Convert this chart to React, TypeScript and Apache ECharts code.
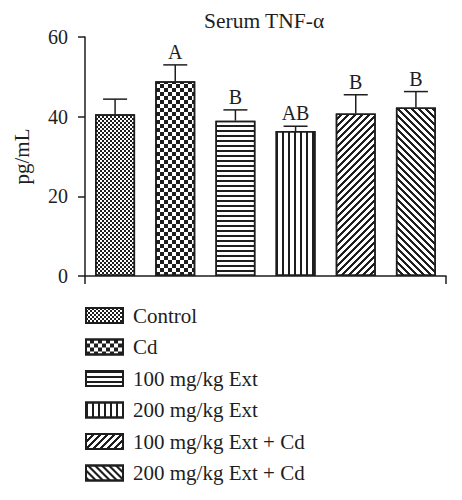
import { useEffect, useRef } from "react";
import * as echarts from "echarts";

const groups = [
  "Control",
  "Cd",
  "100 mg/kg Ext",
  "200 mg/kg Ext",
  "100 mg/kg Ext + Cd",
  "200 mg/kg Ext + Cd",
];
const means = [40.6, 48.9, 39.0, 36.4, 40.8, 42.3];
const upper = [44.4, 53.0, 41.7, 37.6, 45.5, 46.3];
const letters = ["", "A", "B", "AB", "B", "B"];
const yTicks = { min: 0, max: 60, interval: 20 };

const FONT = "'Liberation Serif', 'DejaVu Serif', serif";
const INK = "#1e1e1e";

// staircase rows for a diagonal hatch, no rotation needed
function diagRows(p: number, w: number, dir: number): number[][] {
  const rows: number[][] = [];
  for (let k = 0; k < p; k++) {
    const o = dir > 0 ? k : (p - k) % p;
    if (o + w <= p) rows.push([0, o, w, p - o - w]);
    else rows.push([o + w - p, p - w, p - o, 0]);
  }
  return rows;
}

function decalFor(i: number): any {
  const base = { symbol: "rect", symbolSize: 1, color: INK, backgroundColor: "#fff", rotation: 0 };
  switch (i) {
    case 0:
      return { ...base, backgroundColor: "#b8b8b8", dashArrayX: [[2, 2], [0, 2, 2, 0]], dashArrayY: [2, 0] };
    case 1:
      return { ...base, dashArrayX: [[3.5, 3.5], [0, 3.5, 3.5, 0]], dashArrayY: [3.5, 0] };
    case 2:
      return { ...base, dashArrayX: [1, 0], dashArrayY: [1.5, 3] };
    case 3:
      return { ...base, dashArrayX: [1.5, 3.5], dashArrayY: [1, 0] };
    case 4:
      return { ...base, dashArrayX: diagRows(7, 3, -1), dashArrayY: [1, 0] };
    default:
      return { ...base, dashArrayX: diagRows(7, 3, 1), dashArrayY: [1, 0] };
  }
}

export default function App() {
  const ref = useRef<HTMLDivElement | null>(null);

  useEffect(() => {
    if (!ref.current) return;
    const chart = echarts.init(ref.current, undefined, { renderer: "svg" });

    const barSeries = groups.map((name, i) => ({
      name,
      type: "bar",
      stack: "all",
      barWidth: 40,
      data: means.map((v, j) => (j === i ? v : "-")),
      itemStyle: {
        color: "#fff",
        borderColor: INK,
        borderWidth: 1.5,
        decal: decalFor(i),
      },
    }));

    chart.setOption({
      animation: false,
      title: {
        text: "Serum TNF-α",
        left: 204,
        top: 10,
        padding: 0,
        textStyle: { fontFamily: FONT, fontSize: 21.5, fontWeight: "normal", color: INK },
      },
      grid: { left: 85, right: 16, top: 37, bottom: 224 },
      legend: {
        orient: "vertical",
        left: 85,
        top: 305,
        height: 190,
        padding: 0,
        itemWidth: 37,
        itemHeight: 15,
        itemGap: 10.5,
        icon: "rect",
        selectedMode: false,
        textStyle: { fontFamily: FONT, fontSize: 21, color: INK, padding: [0, 0, 0, 5] },
        data: groups,
      },
      xAxis: {
        type: "category",
        data: groups,
        axisLine: { lineStyle: { color: INK, width: 1.5 } },
        axisTick: { show: true, length: 8, interval: (i: number) => i === 3, lineStyle: { color: INK, width: 1.5 } },
        axisLabel: { show: false },
      },
      yAxis: {
        type: "value",
        ...yTicks,
        name: "pg/mL",
        nameLocation: "middle",
        nameRotate: 90,
        nameGap: 53,
        nameTextStyle: { fontFamily: FONT, fontSize: 21, color: INK },
        axisLine: { show: true, lineStyle: { color: INK, width: 1.5 } },
        axisTick: { show: true, length: 7, lineStyle: { color: INK, width: 1.5 } },
        axisLabel: { fontFamily: FONT, fontSize: 20, color: INK, margin: 17 },
        splitLine: { show: false },
      },
      series: [
        ...barSeries,
        {
          type: "custom",
          name: "err",
          z: 5,
          data: means.map((m, i) => [i, m, upper[i]]),
          renderItem: (params: any, api: any) => {
            const i = api.value(0);
            const base = api.coord([i, api.value(1)]);
            const top = api.coord([i, api.value(2)]);
            const half = 12;
            const style = { stroke: INK, lineWidth: 1.5 };
            return {
              type: "group",
              children: [
                { type: "line", shape: { x1: base[0], y1: base[1], x2: top[0], y2: top[1] }, style },
                { type: "line", shape: { x1: top[0] - half, y1: top[1], x2: top[0] + half, y2: top[1] }, style },
                {
                  type: "text",
                  style: {
                    text: letters[params.dataIndex],
                    x: top[0],
                    y: top[1] - 3,
                    textAlign: "center",
                    textVerticalAlign: "bottom",
                    fontFamily: FONT,
                    fontSize: 20,
                    fill: INK,
                  },
                },
              ],
            };
          },
        },
      ],
    });

    return () => chart.dispose();
  }, []);

  return <div ref={ref} style={{ width: 462, height: 500, margin: -8 }} />;
}
